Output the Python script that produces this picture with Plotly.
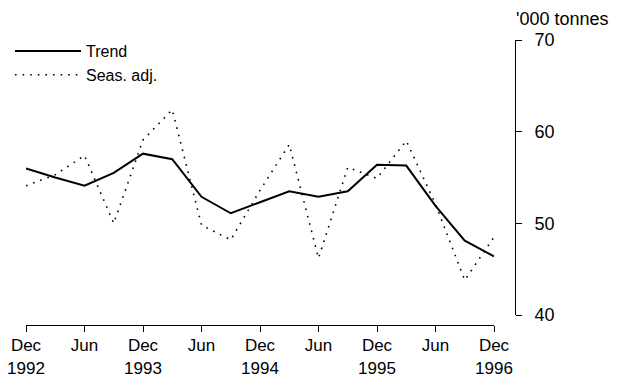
import plotly.graph_objects as go

quarters = ["Dec 1992", "Mar 1993", "Jun 1993", "Sep 1993", "Dec 1993", "Mar 1994",
            "Jun 1994", "Sep 1994", "Dec 1994", "Mar 1995", "Jun 1995", "Sep 1995",
            "Dec 1995", "Mar 1996", "Jun 1996", "Sep 1996", "Dec 1996"]
trend = [56.0, 55.0, 54.1, 55.5, 57.6, 57.0, 52.9, 51.1, 52.3, 53.5, 52.9, 53.5,
         56.4, 56.3, 51.9, 48.1, 46.4]
seas_adj = [54.1, 55.3, 57.4, 50.0, 59.1, 62.4, 49.8, 48.2, 53.6, 58.6, 46.2, 56.1,
            54.9, 59.0, 52.1, 43.8, 48.5]
tick_labels = ["Dec<br>1992", "Jun", "Dec<br>1993", "Jun", "Dec<br>1994", "Jun",
               "Dec<br>1995", "Jun", "Dec<br>1996"]
y_ticks = [40, 50, 60, 70]

x = list(range(len(quarters)))
FONT = "Liberation Sans, Arial, sans-serif"

# the page body has an 8px margin, so the figure is 8px smaller than the window
W, H = 610, 370
ML, MR, MT, MB = 0, 103, 32, 53
PW = W - ML - MR
PH = H - MT - MB

fig = go.Figure()
fig.add_trace(go.Scatter(x=x, y=trend, name="Trend", mode="lines",
                         line=dict(color="black", width=2),
                         customdata=quarters, hovertemplate="%{customdata}: %{y}<extra>Trend</extra>"))
fig.add_trace(go.Scatter(x=x, y=seas_adj, name="Seas. adj.", mode="lines",
                         line=dict(color="black", width=1.6, dash="1.6px,6px"),
                         customdata=quarters, hovertemplate="%{customdata}: %{y}<extra>Seas. adj.</extra>"))

fig.update_layout(
    width=W, height=H, autosize=False,
    margin=dict(l=ML, r=MR, t=MT, b=MB, pad=0, autoexpand=False),
    paper_bgcolor="white", plot_bgcolor="white",
    font=dict(family=FONT, size=18, color="black"),
    showlegend=True,
    legend=dict(x=2 / PW, y=1 + 6 / PH, xanchor="left", yanchor="top",
                font=dict(size=16), itemwidth=66, bgcolor="rgba(0,0,0,0)",
                tracegroupgap=0),
    xaxis=dict(range=[0, 16], domain=[18 / PW, 486 / PW], anchor="free", position=0,
               automargin=False, ticklabeloverflow="allow",
               showline=True, linecolor="black", linewidth=1,
               ticks="outside", ticklen=6, tickcolor="black", tickwidth=1,
               tickvals=x[::2], ticktext=tick_labels, ticklabelstandoff=-1,
               showgrid=False, zeroline=False, tickfont=dict(size=17)),
    yaxis=dict(range=[40, 70], domain=[10 / PH, 1], anchor="free", position=1,
               automargin=False,
               side="right", showline=True, linecolor="black", linewidth=1,
               ticks="outside", ticklen=6, tickcolor="black", tickwidth=1,
               tickvals=y_ticks, showgrid=False, zeroline=False,
               ticklabelstandoff=9, tickfont=dict(size=18)),
    annotations=[dict(text="'000 tonnes", xref="paper", yref="paper", x=1, y=1,
                      xanchor="left", yanchor="middle", xshift=-1, yshift=21,
                      showarrow=False, font=dict(size=18))],
)

fig.write_html("out.html")
